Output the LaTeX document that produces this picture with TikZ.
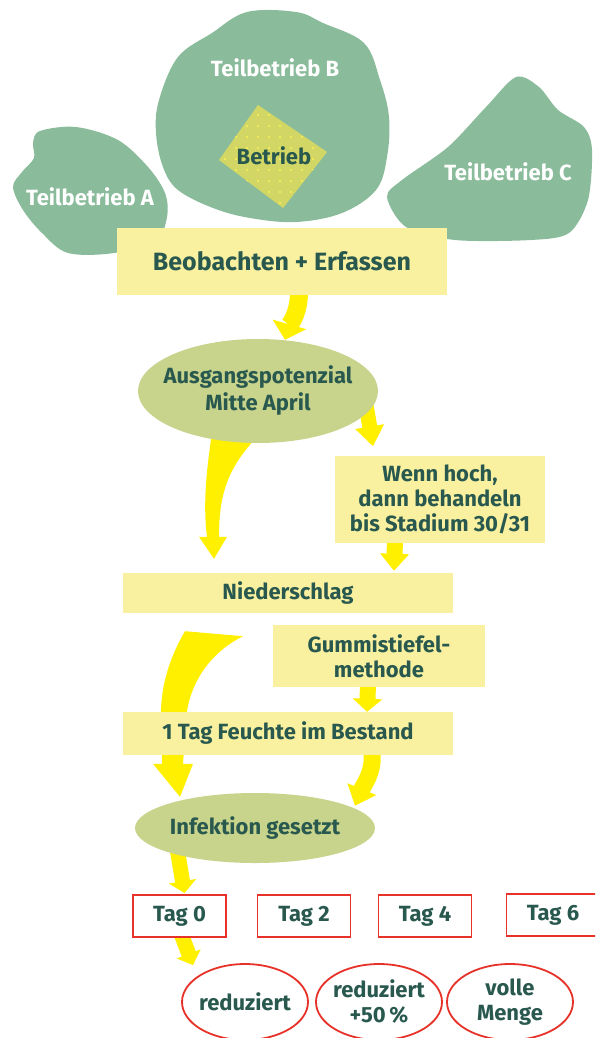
\documentclass[tikz,border=0pt]{standalone}
\usepackage{fontspec}
\setmainfont{Fira Sans}
\usetikzlibrary{shapes.geometric,arrows.meta,backgrounds}
\definecolor{blobgreen}{RGB}{138,188,155}
\definecolor{diamondfill}{RGB}{210,214,100}
\definecolor{dotyellow}{RGB}{250,242,90}
\definecolor{olivefill}{RGB}{200,211,140}
\definecolor{boxyellow}{RGB}{250,241,160}
\definecolor{arrowyellow}{RGB}{255,240,0}
\definecolor{tealtext}{RGB}{40,88,78}
\definecolor{redline}{RGB}{230,50,40}
\newcommand\myfont{\bfseries\fontsize{22}{25}\selectfont}
\newcommand\mybigfont{\bfseries\fontsize{25}{28}\selectfont}
\begin{document}
\begin{tikzpicture}[x=1pt,y=-1pt,
  ybox/.style={rectangle, fill=boxyellow, inner sep=0pt, text=tealtext, font=\myfont, align=center},
  oval/.style={ellipse, fill=olivefill, inner xsep=-20pt, inner ysep=0pt, text=tealtext, font=\myfont, align=center},
  tagbox/.style={rectangle, draw=redline, fill=white, line width=1.8pt, inner sep=0pt, minimum width=93pt, minimum height=42pt, text=tealtext, font=\myfont},
  redoval/.style={ellipse, draw=redline, fill=white, line width=1.8pt, inner xsep=-20pt, inner ysep=0pt, minimum width=126pt, minimum height=76pt, text=tealtext, font=\myfont, align=center},
  bloblabel/.style={text=white, font=\myfont, inner sep=0pt},
  yline/.style={draw=arrowyellow}
]
\useasboundingbox (0,0) rectangle (595,1038);
\clip (0,0) rectangle (595,1038);

% blobs
\fill[blobgreen] plot[smooth cycle, tension=0.6] coordinates {
  (247,12) (296,12) (323,23) (364,43) (380,80) (389,117) (387,157) (376,190)
  (342,213) (296,222) (250,218) (213,208) (178,190) (163,167) (156,133) (159,100)
  (178,57) (212,33)};
\fill[blobgreen] plot[smooth cycle, tension=0.55] coordinates {
  (40,131) (76,127) (118,140) (148,167) (165,193) (167,217) (156,240) (114,253)
  (68,253) (42,233) (23,210) (13,187) (22,172) (34,158) (33,143)};
\fill[blobgreen] plot[smooth cycle, tension=0.5] coordinates {
  (516,77) (539,87) (558,110) (584,127) (592,150) (588,200) (569,233) (531,240)
  (455,240) (406,227) (387,197) (402,180) (448,147) (486,107)};

% diamond
\begin{scope}
  \clip (258,105) -- (327,152) -- (283,208) -- (219,160) -- cycle;
  \fill[diamondfill] (200,100) rectangle (340,215);
  \foreach \i in {0,...,13} \foreach \j in {0,...,10}
    \fill[dotyellow] (203+11*\i, 104+11*\j) circle[radius=1.2pt];
\end{scope}

\node[bloblabel] (lblB) at (275,68) {Teilbetrieb B};
\node[bloblabel] (lblA) at (90,197) {Teilbetrieb A};
\node[bloblabel] (lblC) at (508,172) {Teilbetrieb C};
\node[text=tealtext, font=\myfont, inner sep=0pt] (betrieb) at (274,156) {Betrieb};

% flow nodes
\node[ybox, minimum width=330pt, minimum height=67pt, font=\mybigfont] (beo) at (282,261.5) {Beobachten + Erfassen};
\node[oval, minimum width=240pt, minimum height=104pt, font=\bfseries\fontsize{22}{27}\selectfont] (ausg) at (258,391) {Ausgangspotenzial\\Mitte April};
\node[ybox, minimum width=210pt, minimum height=87pt] (wenn) at (440,499) {Wenn hoch,\\dann behandeln\\bis Stadium 30/31};
\node[ybox, minimum width=330pt, minimum height=40pt] (nieder) at (288,593) {Niederschlag};
\node[ybox, minimum width=212pt, minimum height=62pt] (gummi) at (379,656) {Gummistiefel-\\methode};
\node[ybox, minimum width=330pt, minimum height=43pt] (tag1) at (288,733.5) {1 Tag Feuchte im Bestand};
\node[oval, minimum width=240pt, minimum height=70pt] (infek) at (255,828) {Infektion gesetzt};

\node[tagbox] (tag0) at (179.5,916) {Tag 0};
\node[tagbox] (tag2) at (304,916) {Tag 2};
\node[tagbox] (tag4) at (425,916) {Tag 4};
\node[tagbox] (tag6) at (553,915) {Tag 6};

\node[redoval] (red1) at (245,1002) {reduziert};
\node[redoval] (red2) at (379,1002) {reduziert\\+50\,\%};
\node[redoval] (red3) at (510,1002) {volle\\Menge};

% arrows
\begin{scope}[on background layer]
  \fill[white] (0,0) rectangle (595,1038);
  \draw[yline, line width=18pt, -{Triangle[width=34pt,length=16pt]}]
    ([shift={(17,-3)}]beo.south) .. controls +(0,22) and +(4,-14) .. ([shift={(27,1)}]ausg.north);
  \draw[yline, line width=15pt, -{Triangle[width=28pt,length=20pt]}]
    ([shift={(-12,15)}]ausg.east) -- ([shift={(-67,-9)}]wenn.north);
  \fill[arrowyellow] ([shift={(-45,-17)}]ausg.south)
    .. controls ([shift={(-52,28)}]ausg.south) and ([shift={(-85,-68)}]nieder.north) .. ([shift={(-81,-36)}]nieder.north)
    -- ([shift={(-89,-36)}]nieder.north) -- ([shift={(-74,-14)}]nieder.north)
    -- ([shift={(-61,-36)}]nieder.north) -- ([shift={(-69,-36)}]nieder.north)
    .. controls ([shift={(-69,-73)}]nieder.north) and ([shift={(-33,28)}]ausg.south) .. ([shift={(-3,-4)}]ausg.south)
    -- cycle;
  \draw[yline, line width=16pt, -{Triangle[width=28pt,length=17pt]}]
    ([shift={(-45,-2)}]wenn.south) -- ([shift={(106,-2)}]nieder.north);
  \fill[arrowyellow] ([shift={(-103,18)}]nieder.south)
    .. controls ([shift={(-120,47)}]nieder.south) and ([shift={(-95,-103)}]infek.north) .. ([shift={(-94,-73)}]infek.north)
    -- ([shift={(-93,-29)}]infek.north) -- ([shift={(-102,-29)}]infek.north)
    -- ([shift={(-75,4)}]infek.north) -- ([shift={(-62,-29)}]infek.north)
    -- ([shift={(-72,-29)}]infek.north) -- ([shift={(-69,-73)}]infek.north)
    .. controls ([shift={(-67,-103)}]infek.north) and ([shift={(-83,42)}]nieder.south) .. ([shift={(-45,23)}]nieder.south)
    -- cycle;
  \draw[yline, line width=16pt, -{Triangle[width=29pt,length=13pt]}]
    ([shift={(-11,-2)}]gummi.south) -- ([shift={(79,0)}]tag1.north);
  \draw[yline, line width=17pt, -{Triangle[width=30pt,length=18pt]}]
    ([shift={(84,-3)}]tag1.south) .. controls +(2,20) and +(9,-22) .. ([shift={(100,13)}]infek.north);
  \draw[yline, line width=15pt, -{Triangle[width=27pt,length=12pt]}]
    ([shift={(-78,-15)}]infek.south) -- ([shift={(5,-1)}]tag0.north);
  \draw[yline, line width=15pt, -{Triangle[width=25pt,length=12pt]}]
    ([shift={(2,-3)}]tag0.south) -- ([shift={(-52,2)}]red1.north);
\end{scope}
\end{tikzpicture}
\end{document}
